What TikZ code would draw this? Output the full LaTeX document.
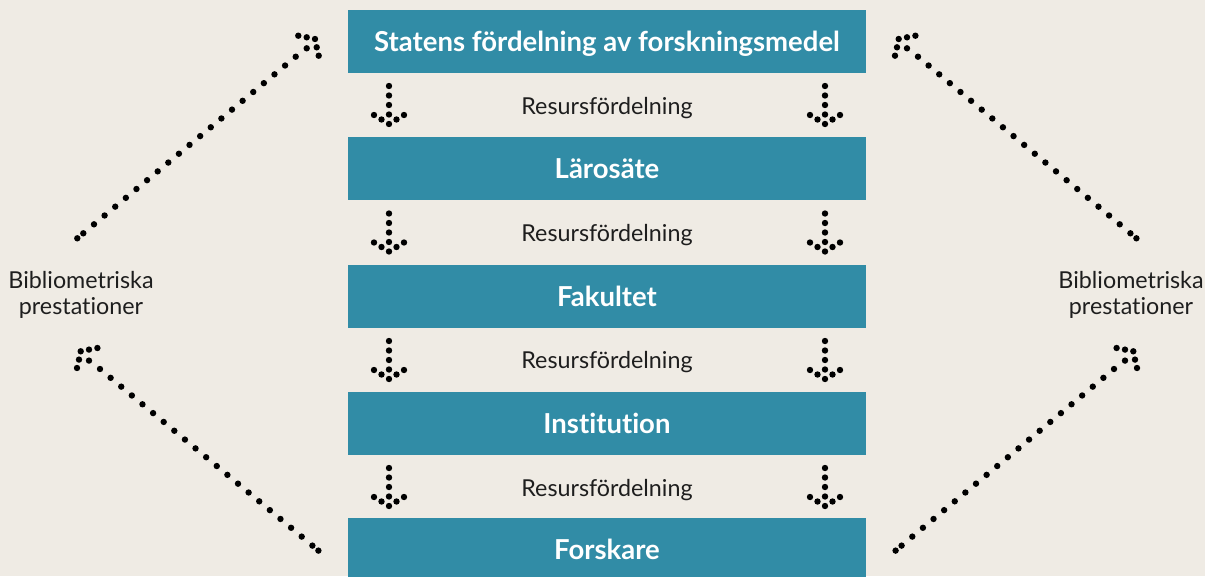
\documentclass[tikz,border=0pt]{standalone}
\usepackage{fontspec}
\setmainfont{Lato}[Ligatures=NoCommon]
\definecolor{bgc}{HTML}{EFEBE4}
\definecolor{boxteal}{HTML}{318CA6}
\definecolor{ink}{HTML}{1E1E1E}
\newcommand\vdarrow[2]{%
  \foreach \dy in {0,9.5,19,28.5,38} {\fill[black] (#1,#2-\dy) circle (3.2pt);}
  \foreach \s in {-1,1} {\fill[black] (#1+\s*7.5,#2-4.5) circle (3.2pt);
    \fill[black] (#1+\s*15,#2-9) circle (3.2pt);}}
\newcommand\diagarrow{%
  \foreach \p in {(0,0),(-8.3,-1.7),(-16.7,-3.3),(1.7,8.3),(3.7,16.7),(-8.3,9.3),(-231.7,194.3),(-237.7,199.3)} {\fill[black] \p circle (3.2pt);}
  \foreach \k in {0,...,19} {\fill[black] (-19.3-\k*10.616,17.7+\k*8.821) circle (3.2pt);}}
\begin{document}
\begin{tikzpicture}[x=1pt,y=-1pt,
  box/.style={fill=boxteal, minimum width=518pt, minimum height=63.5pt, inner sep=0pt, text=white, text depth=0pt, text height=19.5pt, font=\bfseries\fontsize{27.5}{30}\selectfont},
  lbl/.style={text=ink, yshift=-2.5pt, font=\fontsize{23.3}{26}\selectfont},
  side/.style={text=ink, align=center, font=\fontsize{23.3}{25.5}\selectfont}]
\fill[bgc] (0,0) rectangle (1205,576);
\useasboundingbox (0,0) rectangle (1205,576);
% boxes
\node[box] (stat) at (607,41.7) {Statens fördelning av forskningsmedel};
\node[box] (laro) at (607,168.7) {Lärosäte};
\node[box] (fak) at (607,296.5) {Fakultet};
\node[box] (inst) at (607,423.7) {Institution};
\node[box] (fors) at (607,550.2) {Forskare};
% band labels
\node[lbl] (r1) at (607,105.5) {Resursfördelning};
\node[lbl] (r2) at (607,233) {Resursfördelning};
\node[lbl] (r3) at (607,360) {Resursfördelning};
\node[lbl] (r4) at (607,487.5) {Resursfördelning};
% vertical dotted arrows
\foreach \ty in {124,251.5,379,506} {
  \vdarrow{389}{\ty}
  \vdarrow{825}{\ty}
}
% side labels
\node[side] (bl) at (81,295) {Bibliometriska\\prestationer};
\node[side] (br) at (1131,295) {Bibliometriska\\prestationer};
% diagonal dotted arrows
\begin{scope}[shift={(315,39)}]\diagarrow\end{scope}
\begin{scope}[shift={(898.7,39)},xscale=-1]\diagarrow\end{scope}
\begin{scope}[shift={(80.7,351.3)},xscale=-1]\diagarrow\end{scope}
\begin{scope}[shift={(1133.3,351.3)}]\diagarrow\end{scope}
\end{tikzpicture}
\end{document}
